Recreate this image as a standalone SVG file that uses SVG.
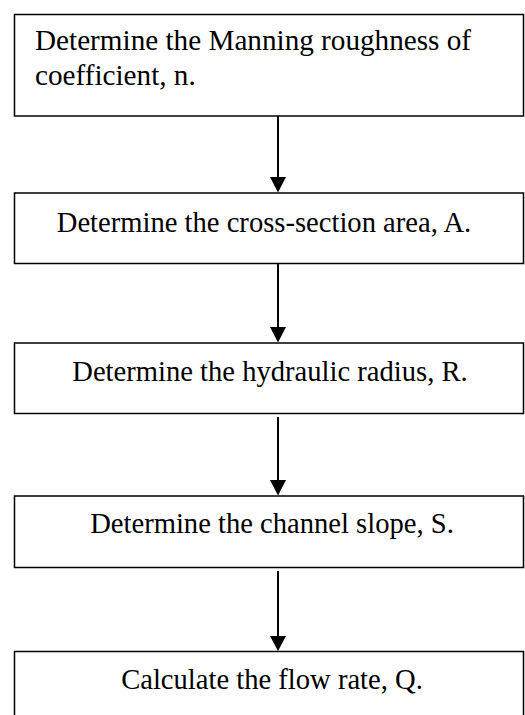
<svg xmlns="http://www.w3.org/2000/svg" width="525" height="715" viewBox="0 0 525 715">
<style>
.box{fill:#fff;stroke:#000;stroke-width:1.5}
.t{font-family:"Liberation Serif","Times New Roman",serif;font-size:28.6px;fill:#000}
.t1{font-size:29.2px}
.c{text-anchor:middle}
.edge{stroke:#000;stroke-width:2;fill:none}
.head{fill:#000}
</style>
<rect width="525" height="715" fill="#fff"/>
<g id="connectors">
<line class="edge" x1="278" y1="116" x2="278" y2="178"/>
<path class="head" d="M270,177 L286,177 L278,192.5 Z"/>
<line class="edge" x1="278" y1="264" x2="278" y2="328"/>
<path class="head" d="M270,327 L286,327 L278,342.5 Z"/>
<line class="edge" x1="278" y1="417" x2="278" y2="481"/>
<path class="head" d="M270,480 L286,480 L278,495.5 Z"/>
<line class="edge" x1="278" y1="571" x2="278" y2="637"/>
<path class="head" d="M270,636 L286,636 L278,651 Z"/>
</g>
<g id="n1">
<rect class="box" x="14.5" y="14.5" width="509" height="101.5"/>
<text class="t t1" x="35" y="50">Determine the Manning roughness of</text>
<text class="t t1" x="35" y="85">coefficient, n.</text>
</g>
<g id="n2">
<rect class="box" x="14.5" y="193" width="509" height="70.5"/>
<text class="t c" x="264" y="232">Determine the cross-section area, A.</text>
</g>
<g id="n3">
<rect class="box" x="14.5" y="343" width="509" height="70.5"/>
<text class="t c" x="270" y="381">Determine the hydraulic radius, R.</text>
</g>
<g id="n4">
<rect class="box" x="14.5" y="496" width="509" height="71.5"/>
<text class="t c" x="272" y="533">Determine the channel slope, S.</text>
</g>
<g id="n5">
<rect class="box" x="14.5" y="651.5" width="509" height="80"/>
<text class="t c" x="272" y="689">Calculate the flow rate, Q.</text>
</g>
</svg>
